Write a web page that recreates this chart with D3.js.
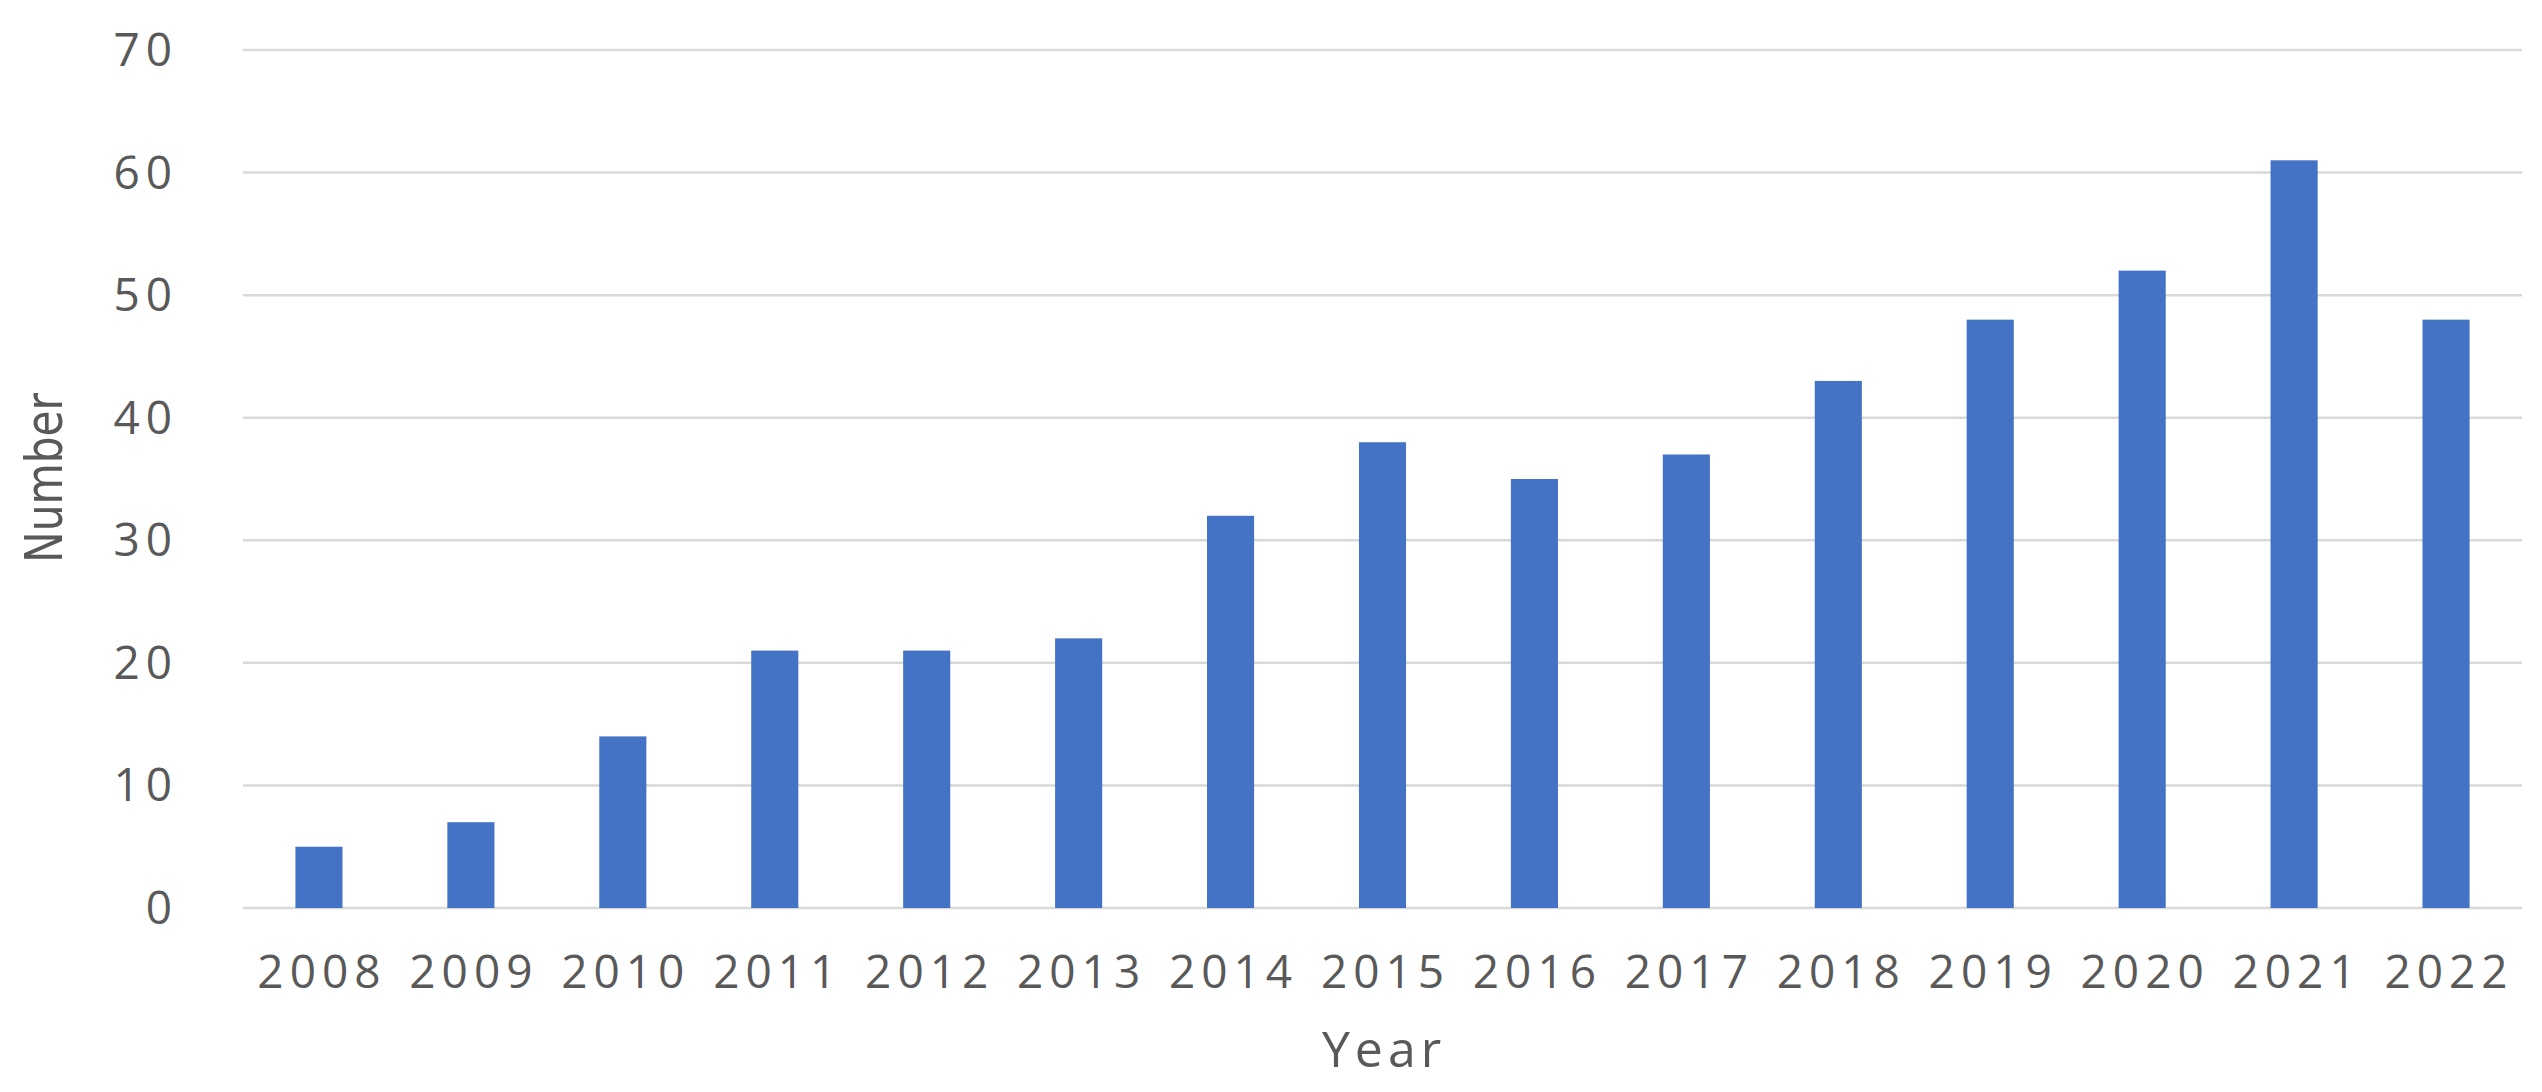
<!DOCTYPE html>
<html><head><meta charset="utf-8">
<script src="https://cdn.jsdelivr.net/npm/d3@7"></script>
<style>body{margin:0;background:#fff}</style>
</head><body>
<script>
var years = ["2008","2009","2010","2011","2012","2013","2014","2015","2016","2017","2018","2019","2020","2021","2022"];
var counts = [5,7,14,21,21,22,32,38,35,37,43,48,52,61,48];
var yTicks = [0,10,20,30,40,50,60,70];

var width = 2542, height = 1092;
var plotLeft = 243, plotRight = 2522, plotTop = 50, plotBottom = 908;

var svg = d3.select("body").append("svg")
    .attr("width", width).attr("height", height);

var x = d3.scaleBand().domain(years).range([plotLeft, plotRight]).paddingInner(0.69).paddingOuter(0.345);
var y = d3.scaleLinear().domain([0,70]).range([plotBottom, plotTop]);

svg.append("g").selectAll("line").data(yTicks).enter().append("line")
    .attr("x1", plotLeft).attr("x2", plotRight)
    .attr("y1", function(d){ return y(d); }).attr("y2", function(d){ return y(d); })
    .attr("stroke", "#d9d9d9").attr("stroke-width", 2.5);

svg.append("g").selectAll("text").data(yTicks).enter().append("text")
    .attr("x", 178).attr("y", function(d){ return y(d) + 16; })
    .attr("text-anchor", "end")
    .style("font-family", "Open Sans").style("font-size", "46px")
    .style("letter-spacing", "6px").style("fill", "#595959")
    .text(function(d){ return d; });

svg.append("g").selectAll("rect").data(counts).enter().append("rect")
    .attr("x", function(d, i){ return x(years[i]); })
    .attr("width", x.bandwidth())
    .attr("y", function(d){ return y(d); })
    .attr("height", function(d){ return y(0) - y(d); })
    .attr("fill", "#4472c4");

svg.append("g").selectAll("text").data(years).enter().append("text")
    .attr("x", function(d){ return x(d) + x.bandwidth()/2 + 3; }).attr("y", 988)
    .attr("text-anchor", "middle")
    .style("font-family", "Open Sans").style("font-size", "46px")
    .style("letter-spacing", "6px").style("fill", "#595959")
    .text(function(d){ return d; });

svg.append("text").attr("x", 1384).attr("y", 1067)
    .attr("text-anchor", "middle")
    .style("font-family", "Open Sans").style("font-size", "50px")
    .style("letter-spacing", "5px").style("fill", "#595959")
    .text("Year");

svg.append("text").attr("transform", "translate(62,478) rotate(-90)")
    .attr("text-anchor", "middle")
    .attr("textLength", 170).attr("lengthAdjust", "spacingAndGlyphs")
    .style("font-family", "DejaVu Sans Condensed").style("font-size", "52px")
    .style("fill", "#595959")
    .text("Number");
</script>
</body></html>
